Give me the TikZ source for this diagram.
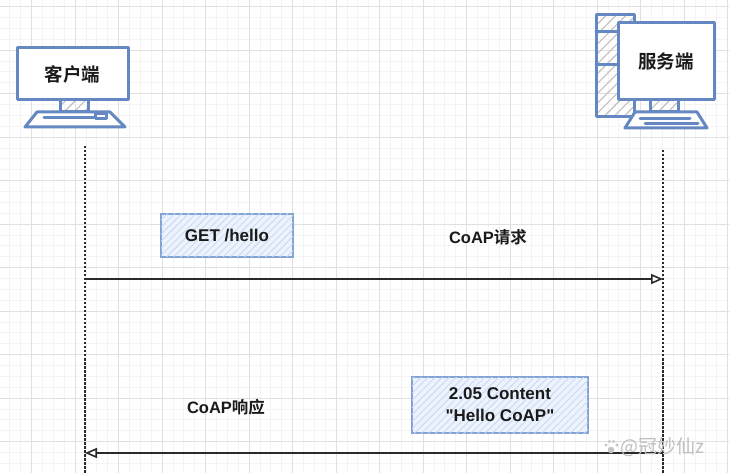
\documentclass[tikz,border=0pt]{standalone}
\usepackage{fontspec}
\setmainfont{Liberation Sans}[Ligatures=TeXOff]
\newfontfamily\cjk{Noto Sans CJK SC}[BoldFont=* Bold]
\usetikzlibrary{arrows.meta,patterns.meta}
\definecolor{mon}{HTML}{6588C2}
\definecolor{boxfill}{HTML}{EDF3FC}
\definecolor{boxhatch}{HTML}{C6D8F2}
\definecolor{boxline}{HTML}{82A3D4}
\definecolor{ink}{HTML}{1A1A1A}
\definecolor{arrowc}{HTML}{2A2A2A}
\definecolor{gridmaj}{HTML}{E0E0E0}
\definecolor{gridmin}{HTML}{F4F4F4}
\tikzset{
  monline/.style={draw=mon, line width=3pt, line join=round, line cap=round},
  greyhatch/.style={pattern={Lines[angle=45,distance=7pt,line width=1.1pt]}, pattern color=gray!50},
  screenbox/.style={monline, fill=white, text=ink, font=\cjk\bfseries\fontsize{18.5}{20}\selectfont, inner sep=0pt},
  msgbox/.style={draw=boxline, line width=1.3pt, fill=boxfill,
    postaction={pattern={Lines[angle=45,distance=5pt,line width=0.8pt]}, pattern color=boxhatch},
    text=ink, font=\bfseries\fontsize{17}{22}\selectfont, align=center, inner sep=0pt},
  msglabel/.style={text=ink, font=\bfseries\fontsize{16.5}{20}\selectfont, inner sep=0pt},
  lifeline/.style={draw=arrowc, line width=1.2pt, dash pattern=on 2.5pt off 1.5pt},
  msgarrow/.style={draw=arrowc, line width=1.8pt, -{Triangle[length=12pt,width=10pt,fill=white,line width=1.6pt]}},
  majorgrid/.style={draw=gridmaj, line width=0.9pt},
  minorgrid/.style={draw=gridmin, line width=0.7pt},
}
\begin{document}
\begin{tikzpicture}[x=1pt,y=-1pt]
\useasboundingbox (0,0) rectangle (729,473);
\fill[white] (0,0) rectangle (729,473);
% grid
\foreach \i in {0,...,68} {\draw[minorgrid] ({-1.125+\i*10.875},0) -- ++(0,473);}
\foreach \i in {0,...,44} {\draw[minorgrid] (0,{-4.375+\i*10.875}) -- ++(729,0);}
\foreach \i in {0,...,17} {\draw[majorgrid] ({-12+\i*43.5},0) -- ++(0,473);}
\foreach \i in {0,...,11} {\draw[majorgrid] (0,{6.5+\i*43.5}) -- ++(729,0);}

% client computer
\path[greyhatch] (60,100) rectangle (88,112);
\draw[monline] (60,100) rectangle (88,112);
\draw[monline, fill=white] (37,112) -- (110,112) -- (125,127) -- (25,127) -- cycle;
\draw[monline] (44,118) -- (94,118);
\draw[monline] (95,113.5) rectangle (106,118.5);
\node[screenbox, minimum width=111pt, minimum height=52pt] (client) at (72.5,74) {客户端};

% server computer
\path[greyhatch] (596,15) rectangle (634,117);
\draw[monline] (596,15) rectangle (634,117);
\draw[monline] (596,32) -- (618,32);
\draw[monline] (596,65) -- (618,65);
\path[greyhatch] (650,100) rectangle (678,112);
\draw[monline] (650,100) rectangle (678,112);
\draw[monline, fill=white] (635,112) -- (697,112) -- (707,128) -- (625,128) -- cycle;
\draw[monline] (640,118.5) -- (690,118.5);
\draw[monline] (645,123.5) -- (698,123.5);
\node[screenbox, minimum width=96pt, minimum height=77pt] (server) at (666,61.5) {服务端};

% lifelines
\coordinate (ctop) at (85,146);
\coordinate (cbot) at (85,473);
\coordinate (stop) at (663,150);
\coordinate (sbot) at (663,473);
\draw[lifeline] (ctop) -- (cbot);
\draw[lifeline] (stop) -- (sbot);

% request
\coordinate (creq) at (85,279);
\coordinate (sreq) at (663,279);
\draw[msgarrow] (creq) -- (sreq);
\node[msgbox, minimum width=132pt, minimum height=43pt] (get) at (227,235.5) {GET /hello};
\node[msglabel] (reqlabel) at (488,237) {CoAP{\cjk\bfseries 请求}};

% response
\coordinate (sres) at (663,453);
\coordinate (cres) at (85,453);
\draw[msgarrow] (sres) -- (cres);
\node[msgbox, minimum width=176pt, minimum height=56pt] (content) at (500,405) {2.05 Content\\"Hello CoAP"};
\node[msglabel] (reslabel) at (226,407) {CoAP{\cjk\bfseries 响应}};

% watermark
\begin{scope}[gray!45]
\fill (611,450) circle (3.3);
\fill (606,445) circle (1.6);
\fill (609.5,441.5) circle (1.6);
\fill (613.5,441.5) circle (1.6);
\fill (617,445) circle (1.6);
\end{scope}
\node[text=gray!50, font=\cjk\fontsize{19}{20}\selectfont, inner sep=0pt, anchor=west] (wm) at (620,447) {@冠妙仙z};
\end{tikzpicture}
\end{document}
